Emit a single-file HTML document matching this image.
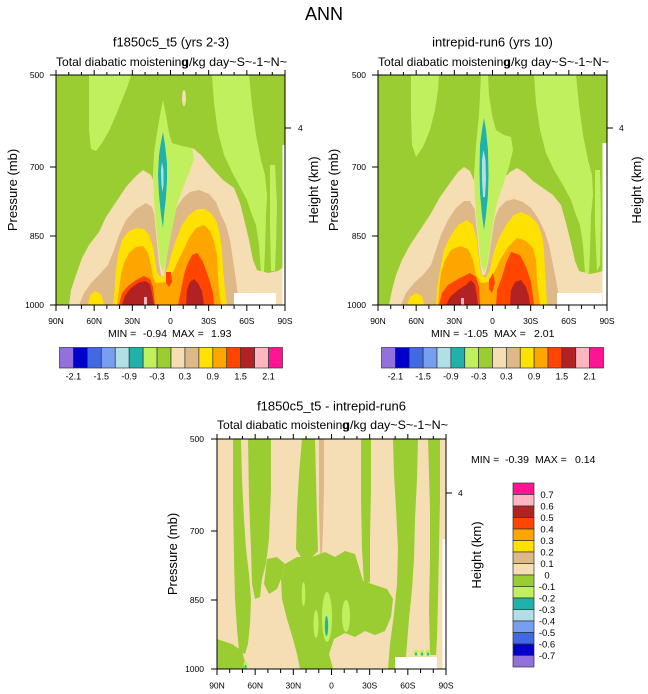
<!DOCTYPE html>
<html><head><meta charset="utf-8">
<style>
html,body{margin:0;padding:0;background:#fff;}
svg{display:block;}
text{font-family:"Liberation Sans",Arial,sans-serif;fill:#000;}
.yg{fill:#9ACD32}.lg{fill:#C1F05F}.wh{fill:#F5DEB3}.bw{fill:#DEB887}.go{fill:#FFE100}.or{fill:#FFA500}.rd{fill:#FF4500}.fb{fill:#B22222}.pk{fill:#FFB6C1}.dp{fill:#FF1493}.ts{fill:#20B2AA}.pb{fill:#B0E0E6}.cf{fill:#789EF0}.rb{fill:#4169E1}.mb{fill:#0000CD}.mp{fill:#9370DB}.w{fill:#fff}
.tk{stroke:#000;stroke-width:1;fill:none}
.fr{stroke:#000;stroke-width:1;fill:none}
.t8{font-size:8.5px}
.lb rect{stroke:#333;stroke-width:0.7}
</style></head><body>
<svg width="648" height="694" viewBox="0 0 648 694" xmlns="http://www.w3.org/2000/svg">
<defs>
<clipPath id="cp"><rect x="0" y="0" width="229" height="230"/></clipPath>
</defs>

<text x="324" y="20" text-anchor="middle" font-size="18">ANN</text>

<!-- ================= LEFT PLOT ================= -->
<text x="171" y="46.5" text-anchor="middle" font-size="13">f1850c5_t5 (yrs 2-3)</text>
<text x="56" y="66" font-size="12" textLength="132" lengthAdjust="spacingAndGlyphs">Total diabatic moistening</text>
<text x="182" y="66" font-size="12" textLength="105" lengthAdjust="spacingAndGlyphs">g/kg day~S~-1~N~</text>
<g transform="translate(56,75)">
<g clip-path="url(#cp)">
<rect class="yg" width="229" height="230"/>
<polygon class="lg" points="33,0 75,0 72,10 66,25 60,40 53,56 46,68 40,76 35,74 33,55"/>
<polygon class="lg" points="156,0 193,0 196,30 200,60 205,85 209,100 211,120 210,140 209,175 208,197 205,197 203,170 200,150 196,140 191,125 184,112 176,97 168,80 162,57 158,28"/>
<polygon class="lg" points="214,90 219,90 221,130 220,170 219,196 215,196 214,150"/>
<ellipse class="wh" cx="128" cy="23" rx="2" ry="8"/>
<polygon class="wh" points="13,230 15,215 20,200 26,183 33,170 43,157 50,142 60,127 70,112 80,101 87,95 95,100 100,112 104,130 107,150 110,130 115,110 122,95 130,85 137,73 145,80 155,92 167,105 178,113 184,128 189,148 193,165 197,185 201,195 212,198 222,196 226,193 229,190 229,230"/>
<polygon class="bw" points="23,230 28,218 35,208 43,200 52,190 58,175 63,160 70,145 80,134 90,128 96,132 100,145 103,165 106,185 109,175 112,160 116,145 121,132 127,123 134,117 143,115 153,119 160,127 165,140 170,150 174,165 177,185 180,205 183,230"/>
<polygon class="go" points="32,230 34,220 39,216 45,219 48,230"/>
<polygon class="go" points="57,230 59,210 60,195 62,180 66,165 72,157 80,153 88,154 93,160 97,172 99,185 101,198 104,202 108,200 112,192 115,180 120,165 126,150 133,140 141,134 149,134 156,139 161,148 164,160 166,175 167,195 169,215 171,230"/>
<polygon class="or" points="61,230 63,215 65,200 68,188 73,178 80,172 87,171 92,178 95,190 97,202 100,208 110,207 116,200 121,188 127,176 133,163 140,153 148,150 154,156 158,166 161,180 162,200 163,215 165,230"/>
<polygon class="rd" points="63,230 66,218 72,211 80,205 88,201 94,204 97,212 99,230"/>
<polygon class="rd" points="122,230 125,215 128,200 131,190 136,180 141,178 146,185 150,195 154,207 157,218 158,230"/>
<polygon class="rd" points="110,197 115,197 116,207 113,212 110,208"/>
<polygon class="fb" points="66,230 69,221 74,214 82,208 89,206 94,209 96,218 98,230"/>
<polygon class="fb" points="130,230 131,215 134,207 138,204 142,208 146,216 148,230"/>
<rect class="pk" x="88" y="222" width="3" height="8"/>
<polygon class="wh" points="97,97 131,92 127,108 121,128 116,148 113,168 110,188 108,201 105,201 103,188 101,168 99,148 97,125"/>
<polygon class="lg" points="107,25 110,40 113,58 116,68 126,71 136,73 138,84 133,98 127,113 121,130 117,150 113,170 110,188 107,197 104,188 102,170 100,150 98,125 97,100 98,78 101,58 104,40"/>
<polygon class="ts" points="107,57 109,70 111,88 111,105 110,122 108,140 107,153 105,140 103,120 102,100 103,80 105,67"/>
<polygon class="pb" points="106,87 107.5,95 107.5,110 106.5,117 105.5,110 105,95"/>
<rect class="w" x="178" y="218" width="42" height="12"/>
<rect class="w" x="226.5" y="70" width="3" height="160"/>
</g>
<rect class="fr" x="0" y="0" width="229" height="230"/>
<path class="tk" d="M0,0V-5M12.72,0V-3M25.44,0V-3M38.17,0V-5M50.89,0V-3M63.61,0V-3M76.33,0V-5M89.06,0V-3M101.78,0V-3M114.5,0V-5M127.22,0V-3M139.94,0V-3M152.67,0V-5M165.39,0V-3M178.11,0V-3M190.83,0V-5M203.56,0V-3M216.28,0V-3M229,0V-5"/>
<path class="tk" d="M0,230V236M12.72,230V234M25.44,230V234M38.17,230V236M50.89,230V234M63.61,230V234M76.33,230V236M89.06,230V234M101.78,230V234M114.5,230V236M127.22,230V234M139.94,230V234M152.67,230V236M165.39,230V234M178.11,230V234M190.83,230V236M203.56,230V234M216.28,230V234M229,230V236"/>
<path class="tk" d="M0,0H-6M0,92H-6M0,161H-6M0,230H-6M229,53H235"/>
</g>
<g class="t8" text-anchor="end">
<text x="44" y="78">500</text><text x="44" y="170">700</text><text x="44" y="239">850</text><text x="44" y="308">1000</text>
</g>
<text x="298" y="131" class="t8">4</text>
<g class="t8" text-anchor="middle">
<text x="56" y="324">90N</text><text x="94.17" y="324">60N</text><text x="132.33" y="324">30N</text><text x="170.5" y="324">0</text><text x="208.67" y="324">30S</text><text x="246.83" y="324">60S</text><text x="285" y="324">90S</text>
</g>
<text transform="translate(17,190) rotate(-90)" text-anchor="middle" font-size="13">Pressure (mb)</text>
<text transform="translate(318,190) rotate(-90)" text-anchor="middle" font-size="13">Height (km)</text>
<g font-size="10.5">
<text x="108" y="337">MIN =</text><text x="143" y="337">-0.94</text><text x="172" y="337">MAX =</text><text x="211" y="337">1.93</text>
</g>
<g class="lb" transform="translate(59.5,347.5)">
<rect class="mp" x="0" width="13.94" height="20.5"/><rect class="mb" x="13.94" width="13.94" height="20.5"/><rect class="rb" x="27.88" width="13.94" height="20.5"/><rect class="cf" x="41.81" width="13.94" height="20.5"/><rect class="pb" x="55.75" width="13.94" height="20.5"/><rect class="ts" x="69.69" width="13.94" height="20.5"/><rect class="lg" x="83.63" width="13.94" height="20.5"/><rect class="yg" x="97.56" width="13.94" height="20.5"/><rect class="wh" x="111.5" width="13.94" height="20.5"/><rect class="bw" x="125.44" width="13.94" height="20.5"/><rect class="go" x="139.38" width="13.94" height="20.5"/><rect class="or" x="153.31" width="13.94" height="20.5"/><rect class="rd" x="167.25" width="13.94" height="20.5"/><rect class="fb" x="181.19" width="13.94" height="20.5"/><rect class="pk" x="195.13" width="13.94" height="20.5"/><rect class="dp" x="209.06" width="13.94" height="20.5"/>
</g>
<g font-size="9" text-anchor="middle">
<text x="73.44" y="379.5">-2.1</text><text x="101.31" y="379.5">-1.5</text><text x="129.19" y="379.5">-0.9</text><text x="157.06" y="379.5">-0.3</text><text x="184.94" y="379.5">0.3</text><text x="212.81" y="379.5">0.9</text><text x="240.69" y="379.5">1.5</text><text x="268.56" y="379.5">2.1</text>
</g>

<!-- ================= RIGHT PLOT ================= -->
<text x="492.5" y="46.5" text-anchor="middle" font-size="13">intrepid-run6 (yrs 10)</text>
<text x="378" y="66" font-size="12" textLength="132" lengthAdjust="spacingAndGlyphs">Total diabatic moistening</text>
<text x="504" y="66" font-size="12" textLength="105" lengthAdjust="spacingAndGlyphs">g/kg day~S~-1~N~</text>
<g transform="translate(378,75)">
<g clip-path="url(#cp)">
<rect class="yg" width="229" height="230"/>
<polygon class="lg" points="33,0 61,0 60,15 57,35 52,55 45,72 38,82 34,70 33,40"/>
<polygon class="lg" points="156,0 198,0 201,30 205,60 210,85 214,100 215,120 213,140 212,175 211,198 207,198 205,170 202,150 198,140 193,125 185,110 176,95 168,78 162,55 158,28"/>
<polygon class="lg" points="217,95 222,95 223,140 222,190 219,196 217,150"/>
<polygon class="wh" points="11,230 14,215 18,200 24,185 32,170 42,155 52,140 62,122 72,108 80,97 86,92 92,96 97,108 101,125 104,145 107,150 110,145 113,130 118,115 125,105 132,97 139,93 147,98 155,106 165,113 175,120 183,130 188,148 193,168 197,186 201,196 212,199 222,197 229,193 229,230"/>
<polygon class="bw" points="23,230 28,218 36,208 45,200 53,190 58,175 63,160 70,145 78,133 86,126 92,126 97,135 100,150 103,170 106,185 109,175 112,160 116,145 121,133 128,126 136,124 145,127 153,133 160,143 166,155 171,170 175,190 179,210 182,230"/>
<polygon class="go" points="29,230 32,222 38,218 44,221 46,230"/>
<polygon class="go" points="58,230 59,215 62,195 66,175 72,162 80,150 89,145 95,150 99,165 101,185 103,200 108,203 112,195 115,180 120,165 128,150 136,140 143,137 152,141 159,148 164,160 166,175 167,198 169,230"/>
<polygon class="or" points="60,230 61,215 63,198 67,185 73,175 82,171 90,174 95,185 98,200 103,208 110,207 116,198 122,185 130,172 139,163 148,166 155,173 158,185 159,205 162,230"/>
<polygon class="rd" points="61,230 64,218 70,210 80,204 92,198 98,202 101,212 102,230"/>
<polygon class="rd" points="118,230 119,215 124,202 128,188 133,177 142,180 148,192 153,207 156,230"/>
<polygon class="rd" points="111,205 115,198 117,208 114,218 111,214"/>
<polygon class="fb" points="68,230 72,222 80,215 88,210 93,205 97,210 99,222 100,230"/>
<polygon class="fb" points="132,230 133,215 137,207 143,205 148,212 151,222 152,230"/>
<rect class="pk" x="83" y="223" width="3" height="7"/>
<polygon class="wh" points="96,100 134,100 126,112 120,128 116,148 113,168 110,188 107,200 104,200 102,188 100,168 98,148 96,125"/>
<polygon class="lg" points="103,0 110,0 111,20 114,40 118,55 126,60 133,62 135,75 131,92 125,110 119,128 115,148 112,170 109,190 106,197 103,190 101,170 99,150 97,125 96,100 98,70 101,40 102,20"/>
<polygon class="ts" points="106,43 108,55 110,75 110.5,100 110,120 108,140 106,155 104,140 102,118 101.5,95 102,70 104,55"/>
<polygon class="pb" points="105.5,75 107.5,85 108,105 107,122 105,122 104,105 104,85"/>
<rect class="w" x="179" y="218" width="45" height="12"/>
<rect class="w" x="224.5" y="68" width="5" height="162"/>
</g>
<rect class="fr" x="0" y="0" width="229" height="230"/>
<path class="tk" d="M0,0V-5M12.72,0V-3M25.44,0V-3M38.17,0V-5M50.89,0V-3M63.61,0V-3M76.33,0V-5M89.06,0V-3M101.78,0V-3M114.5,0V-5M127.22,0V-3M139.94,0V-3M152.67,0V-5M165.39,0V-3M178.11,0V-3M190.83,0V-5M203.56,0V-3M216.28,0V-3M229,0V-5"/>
<path class="tk" d="M0,230V236M12.72,230V234M25.44,230V234M38.17,230V236M50.89,230V234M63.61,230V234M76.33,230V236M89.06,230V234M101.78,230V234M114.5,230V236M127.22,230V234M139.94,230V234M152.67,230V236M165.39,230V234M178.11,230V234M190.83,230V236M203.56,230V234M216.28,230V234M229,230V236"/>
<path class="tk" d="M0,0H-6M0,92H-6M0,161H-6M0,230H-6M229,53H235"/>
</g>
<g class="t8" text-anchor="end">
<text x="366" y="78">500</text><text x="366" y="170">700</text><text x="366" y="239">850</text><text x="366" y="308">1000</text>
</g>
<text x="619" y="131" class="t8">4</text>
<g class="t8" text-anchor="middle">
<text x="378" y="324">90N</text><text x="416.17" y="324">60N</text><text x="454.33" y="324">30N</text><text x="492.5" y="324">0</text><text x="530.67" y="324">30S</text><text x="568.83" y="324">60S</text><text x="607" y="324">90S</text>
</g>
<text transform="translate(338,190) rotate(-90)" text-anchor="middle" font-size="13">Pressure (mb)</text>
<text transform="translate(641,190) rotate(-90)" text-anchor="middle" font-size="13">Height (km)</text>
<g font-size="10.5">
<text x="431" y="337">MIN =</text><text x="464" y="337">-1.05</text><text x="494" y="337">MAX =</text><text x="534" y="337">2.01</text>
</g>
<g class="lb" transform="translate(381.5,347.5)">
<rect class="mp" x="0" width="13.875" height="20.5"/><rect class="mb" x="13.875" width="13.875" height="20.5"/><rect class="rb" x="27.75" width="13.875" height="20.5"/><rect class="cf" x="41.63" width="13.875" height="20.5"/><rect class="pb" x="55.5" width="13.875" height="20.5"/><rect class="ts" x="69.38" width="13.875" height="20.5"/><rect class="lg" x="83.25" width="13.875" height="20.5"/><rect class="yg" x="97.13" width="13.875" height="20.5"/><rect class="wh" x="111" width="13.875" height="20.5"/><rect class="bw" x="124.88" width="13.875" height="20.5"/><rect class="go" x="138.75" width="13.875" height="20.5"/><rect class="or" x="152.63" width="13.875" height="20.5"/><rect class="rd" x="166.5" width="13.875" height="20.5"/><rect class="fb" x="180.38" width="13.875" height="20.5"/><rect class="pk" x="194.25" width="13.875" height="20.5"/><rect class="dp" x="208.13" width="13.875" height="20.5"/>
</g>
<g font-size="9" text-anchor="middle">
<text x="395.38" y="379.5">-2.1</text><text x="423.13" y="379.5">-1.5</text><text x="450.88" y="379.5">-0.9</text><text x="478.63" y="379.5">-0.3</text><text x="506.38" y="379.5">0.3</text><text x="534.13" y="379.5">0.9</text><text x="561.88" y="379.5">1.5</text><text x="589.63" y="379.5">2.1</text>
</g>

<!-- ================= BOTTOM (DIFF) PLOT ================= -->
<text x="331.5" y="410.5" text-anchor="middle" font-size="13">f1850c5_t5 - intrepid-run6</text>
<text x="217" y="429" font-size="12" textLength="132" lengthAdjust="spacingAndGlyphs">Total diabatic moistening</text>
<text x="343" y="429" font-size="12" textLength="105" lengthAdjust="spacingAndGlyphs">g/kg day~S~-1~N~</text>
<g transform="translate(217,439)">
<g clip-path="url(#cp)">
<rect class="wh" width="229" height="230"/>
<polygon class="yg" points="16,0 24,0 25,40 27,80 29,110 32,135 34,160 33,185 31,205 28,215 22,212 20,190 18,160 17,120 16,60"/>
<polygon class="yg" points="31,0 54,0 54,50 52,100 49,125 45,140 43,158 38,160 35,145 34,110 32,60"/>
<polygon class="yg" points="85,0 98,0 99,40 100,80 101,112 95,118 85,120 79,110 80,70 82,35"/>
<polygon class="bw" points="102,0 107,0 107,50 106,90 105,115 104,122 103,110 102,70"/>
<polygon class="yg" points="144,0 154,0 154,50 153,100 153,143 147,145 145,110 144,60"/>
<polygon class="yg" points="176,0 201,0 200,40 198,80 197,120 195,150 192,180 190,205 188,230 171,230 173,205 177,175 180,145 181,110 179,70 177,35"/>
<polygon class="yg" points="211,0 223,0 223,60 222,110 221,160 220,200 219,216 213,216 212,170 213,120 213,70"/>
<polygon class="yg" points="68,125 80,118 95,118 108,113 118,118 128,112 138,115 146,142 158,146 170,150 176,160 174,178 168,192 158,196 148,192 138,198 128,194 117,200 112,215 116,230 83,230 80,215 76,200 70,180 65,160 64,140"/>
<polygon class="yg" points="50,120 60,118 68,125 64,140 60,150 52,155 47,145"/>
<polygon class="yg" points="0,200 15,205 25,212 30,230 0,230"/>
<ellipse class="lg" cx="110" cy="178" rx="5" ry="25"/>
<ellipse class="ts" cx="109.5" cy="187" rx="1.7" ry="10"/>
<ellipse class="lg" cx="129" cy="177" rx="4" ry="16"/>
<ellipse class="lg" cx="86.5" cy="155" rx="1.8" ry="12"/>
<ellipse class="lg" cx="99" cy="185" rx="2.5" ry="14"/>
<ellipse class="lg" cx="28.5" cy="226" rx="2" ry="4"/>
<ellipse class="ts" cx="28.5" cy="228" rx="1" ry="2"/>
<ellipse class="lg" cx="199" cy="214" rx="2.5" ry="3.5"/>
<ellipse class="lg" cx="205" cy="214" rx="2.5" ry="3.5"/>
<ellipse class="lg" cx="211" cy="214" rx="2.5" ry="3.5"/>
<ellipse class="ts" cx="199" cy="215" rx="1" ry="1.5"/>
<ellipse class="ts" cx="205" cy="215" rx="1" ry="1.5"/>
<ellipse class="ts" cx="211" cy="215" rx="1" ry="1.5"/>
<rect class="w" x="178" y="218" width="42" height="12"/>
<rect class="w" x="225.5" y="100" width="3.5" height="130"/>
</g>
<rect class="fr" x="0" y="0" width="229" height="230"/>
<path class="tk" d="M0,0V-5M12.72,0V-3M25.44,0V-3M38.17,0V-5M50.89,0V-3M63.61,0V-3M76.33,0V-5M89.06,0V-3M101.78,0V-3M114.5,0V-5M127.22,0V-3M139.94,0V-3M152.67,0V-5M165.39,0V-3M178.11,0V-3M190.83,0V-5M203.56,0V-3M216.28,0V-3M229,0V-5"/>
<path class="tk" d="M0,230V236M12.72,230V234M25.44,230V234M38.17,230V236M50.89,230V234M63.61,230V234M76.33,230V236M89.06,230V234M101.78,230V234M114.5,230V236M127.22,230V234M139.94,230V234M152.67,230V236M165.39,230V234M178.11,230V234M190.83,230V236M203.56,230V234M216.28,230V234M229,230V236"/>
<path class="tk" d="M0,0H-6M0,92H-6M0,161H-6M0,230H-6M229,54H235"/>
</g>
<g class="t8" text-anchor="end">
<text x="204" y="442">500</text><text x="204" y="534">700</text><text x="204" y="603">850</text><text x="204" y="672">1000</text>
</g>
<text x="458" y="496" class="t8">4</text>
<g class="t8" text-anchor="middle">
<text x="217" y="688.5">90N</text><text x="255.17" y="688.5">60N</text><text x="293.33" y="688.5">30N</text><text x="331.5" y="688.5">0</text><text x="369.67" y="688.5">30S</text><text x="407.83" y="688.5">60S</text><text x="446" y="688.5">90S</text>
</g>
<text transform="translate(177,554) rotate(-90)" text-anchor="middle" font-size="13">Pressure (mb)</text>
<text transform="translate(481,555) rotate(-90)" text-anchor="middle" font-size="13">Height (km)</text>
<g font-size="10.5">
<text x="471" y="463">MIN =</text><text x="505" y="463">-0.39</text><text x="535" y="463">MAX =</text><text x="575" y="463">0.14</text>
</g>
<g class="lb" transform="translate(513,483)">
<rect class="dp" y="0" width="21" height="11.5"/><rect class="pk" y="11.5" width="21" height="11.5"/><rect class="fb" y="23" width="21" height="11.5"/><rect class="rd" y="34.5" width="21" height="11.5"/><rect class="or" y="46" width="21" height="11.5"/><rect class="go" y="57.5" width="21" height="11.5"/><rect class="bw" y="69" width="21" height="11.5"/><rect class="wh" y="80.5" width="21" height="11.5"/><rect class="yg" y="92" width="21" height="11.5"/><rect class="lg" y="103.5" width="21" height="11.5"/><rect class="ts" y="115" width="21" height="11.5"/><rect class="pb" y="126.5" width="21" height="11.5"/><rect class="cf" y="138" width="21" height="11.5"/><rect class="rb" y="149.5" width="21" height="11.5"/><rect class="mb" y="161" width="21" height="11.5"/><rect class="mp" y="172.5" width="21" height="11.5"/>
</g>
<g font-size="9.5" text-anchor="middle">
<text x="547" y="497.8">0.7</text><text x="547" y="509.3">0.6</text><text x="547" y="520.8">0.5</text><text x="547" y="532.3">0.4</text><text x="547" y="543.8">0.3</text><text x="547" y="555.3">0.2</text><text x="547" y="566.8">0.1</text><text x="547" y="578.3">0</text><text x="547" y="589.8">-0.1</text><text x="547" y="601.3">-0.2</text><text x="547" y="612.8">-0.3</text><text x="547" y="624.3">-0.4</text><text x="547" y="635.8">-0.5</text><text x="547" y="647.3">-0.6</text><text x="547" y="658.8">-0.7</text>
</g>
</svg>
</body></html>
